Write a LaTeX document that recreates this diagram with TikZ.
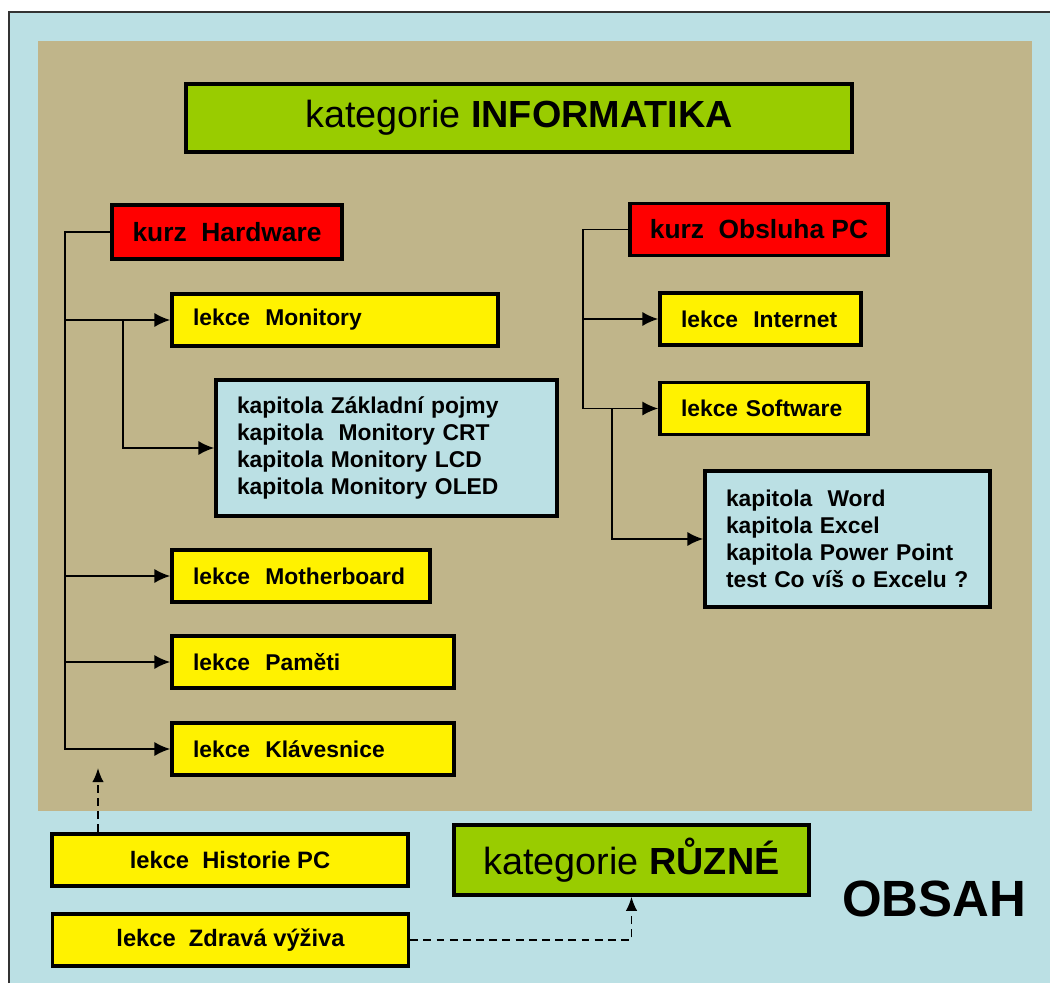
\documentclass[tikz,border=0pt]{standalone}
\usepackage{fontspec}
\setmainfont{Liberation Sans}
\usepackage{xcolor}
\usetikzlibrary{arrows.meta, positioning}

\definecolor{frameblue}{RGB}{187,224,228}
\definecolor{panetan}{RGB}{192,181,138}
\definecolor{catgreen}{RGB}{153,204,0}

\tikzset{
  box/.style={draw=black, line width=2pt, rectangle, minimum height=1.04cm, inner ysep=0pt},
  kurz/.style={box, fill=red, font=\fontsize{15}{17}\selectfont\bfseries},
  lekce/.style={box, fill=yellow, inner xsep=0.42cm, text width=#1, align=left,
    font=\fontsize{13}{15}\selectfont\bfseries},
  kapitola/.style={box, fill=frameblue, inner xsep=0.42cm, text width=#1, align=left,
    minimum height=2.72cm, font=\fontsize{13}{15.4}\selectfont\bfseries},
  jina/.style={box, fill=yellow, minimum width=7.12cm, font=\fontsize{13.5}{15.5}\selectfont\bfseries},
  kategorie/.style={box, fill=catgreen, font=\fontsize{21.5}{25}\selectfont},
  link/.style={line width=1.1pt},
  arr/.style={link, -{Latex[length=9pt,width=8pt]}},
  darr/.style={line width=1pt, dash pattern=on 4.5pt off 3pt, -{Latex[length=8pt,width=6.5pt]}}
}

\begin{document}
\begin{tikzpicture}[x=0.02cm, y=-0.02cm]
\useasboundingbox (0,0) rectangle (1050,983);
% background
\fill[frameblue] (9,12) rectangle (1050,983);
\draw[line width=1pt, color=black!80] (9,983) -- (9,12) -- (1050,12);
\fill[panetan] (38,41) rectangle (1032,811);
%
\node[kategorie, minimum width=13.32cm, minimum height=1.36cm] (info) at (519,118)
{kategorie \textbf{INFORMATIKA}};
%
% kurz Hardware
\node[kurz, minimum width=4.6cm, minimum height=1.08cm] (hw) at (227,232) {kurz\ \ Hardware};
\node[lekce=5.68cm] (mon) at (335,320) {lekce\ \ Monitory};
\node[kapitola=5.98cm] (kap1) at (386.5,448)
{kapitola Základní pojmy\\ kapitola\ \ Monitory CRT\\ kapitola Monitory LCD\\ kapitola Monitory OLED};
\node[lekce=4.32cm] (mb) at (301,576) {lekce\ \ Motherboard};
\node[lekce=4.80cm] (pam) at (313,662) {lekce\ \ Paměti};
\node[lekce=4.80cm] (kla) at (313,749) {lekce\ \ Klávesnice};
%
\draw[arr] (hw.west) -- ++(-45,0) coordinate (hwbus) |- (kla.west);
\draw[arr] (hwbus |- mon.west) -- (mon.west);
\draw[arr] (hwbus |- mb.west) -- (mb.west);
\draw[arr] (hwbus |- pam.west) -- (pam.west);
\draw[arr] (mon.west) ++(-47,0) |- (kap1.west);
%
% kurz Obsluha PC
\node[kurz, minimum width=5.16cm] (obs) at (759,229.5) {kurz\ \ Obsluha PC};
\node[lekce=3.18cm] (int) at (760.5,319) {lekce\ \ Internet};
\node[lekce=3.32cm] (sw) at (764,408.5) {lekce Software};
\node[kapitola=4.86cm] (kap2) at (847.5,539)
{kapitola\ \ Word\\ kapitola Excel\\ kapitola Power Point\\ test Co víš o Excelu ?};
%
\draw[arr] (obs.west) -- ++(-45,0) coordinate (pcbus) |- (sw.west);
\draw[arr] (pcbus |- int.west) -- (int.west);
\draw[arr] (sw.west) ++(-46,0) |- (kap2.west);
%
% mimo kategorii
\node[jina] (hist) at (230,860) {lekce\ \ Historie PC};
\node[jina] (zdr) at (230.5,940) {lekce\ \ Zdravá výživa};
\node[kategorie, minimum width=7.10cm, minimum height=1.40cm] (ruz) at (631.5,860)
{kategorie \textbf{RŮZNÉ}};
\node[font=\fontsize{29}{34}\selectfont\bfseries] (obsah) at (934,899) {OBSAH};
%
\coordinate (histtip) at (98,768);
\draw[darr] (hist.north -| histtip) -- (histtip);
\draw[darr] (zdr.east) -| (ruz.south);
\end{tikzpicture}
\end{document}
